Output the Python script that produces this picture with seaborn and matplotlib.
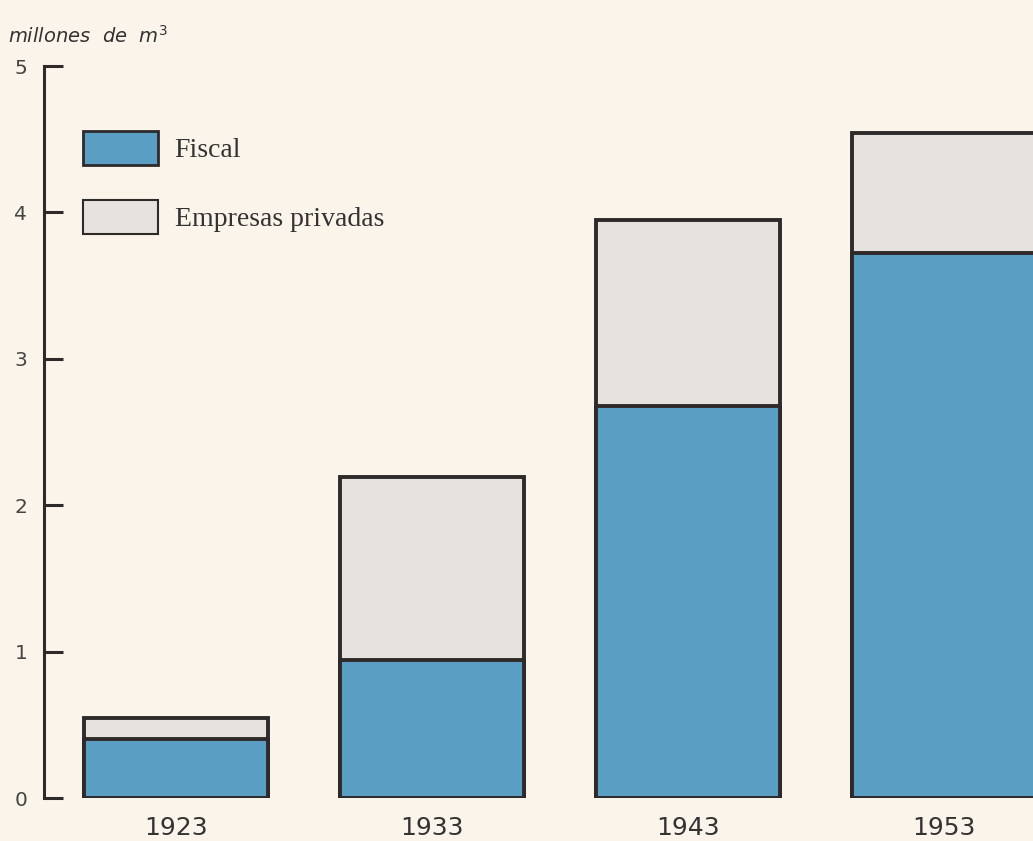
import pandas as pd
import matplotlib.pyplot as plt
import seaborn as sns
from matplotlib.patches import Patch

sns.set_style("white")
plt.rcParams['font.family'] = ['DejaVu Sans']

# data (millones de m3)
years = ["1923", "1933", "1943", "1953"]
fiscal = [0.40, 0.94, 2.68, 3.72]
privadas = [0.15, 1.25, 1.27, 0.82]

df = pd.DataFrame({"year": years, "fiscal": fiscal, "privadas": privadas})
df["total"] = df["fiscal"] + df["privadas"]

bg = "#FBF4EB"
blue = "#5B9EC4"
grey = "#E6E2DD"
edge = "#2E2A2A"

fig = plt.figure(figsize=(10.33, 8.41), dpi=100, facecolor=bg)
ax = fig.add_axes([0.0426, 0.0511, 0.9574, 0.8704])
ax.set_facecolor(bg)

# total bar (grey) behind, fiscal part (blue) on top
sns.barplot(data=df, x="year", y="total", color=grey, width=0.72,
            edgecolor=edge, linewidth=2.8, saturation=1, ax=ax)
sns.barplot(data=df, x="year", y="fiscal", color=blue, width=0.72,
            edgecolor=edge, linewidth=2.8, saturation=1, ax=ax)

ax.set_xlim(-0.516, 3.348)
ax.set_ylim(0, 5)
ax.set_yticks([0, 1, 2, 3, 4, 5])
ax.set_xlabel("")
ax.set_ylabel("")

for s in ["top", "right", "bottom"]:
    ax.spines[s].set_visible(False)
ax.spines["left"].set_linewidth(2.2)
ax.spines["left"].set_color(edge)

ax.tick_params(axis="y", direction="in", length=14, width=2.2, color=edge,
               labelsize=14.5, labelcolor="#444444", pad=12, left=True)
ax.tick_params(axis="x", length=0, labelsize=18, labelcolor="#333333", pad=13)

fig.text(0.008, 0.957, "millones  de  m$^3$", style="italic", fontsize=14,
         color="#333333", va="center", ha="left")

handles = [Patch(facecolor=blue, edgecolor=edge, linewidth=2, label="Fiscal"),
           Patch(facecolor=grey, edgecolor=edge, linewidth=1.5, label="Empresas privadas")]
leg = ax.legend(handles=handles, loc="upper left",
                bbox_to_anchor=(69 / 1033, 1 - 117 / 841),
                bbox_transform=fig.transFigure, frameon=False, borderpad=0,
                prop={"family": "Liberation Serif", "size": 20},
                handlelength=2.7, handleheight=1.52, handletextpad=0.6,
                labelspacing=1.25)
for t in leg.get_texts():
    t.set_color("#333333")

fig.savefig("out.png", dpi=100, facecolor=bg)
